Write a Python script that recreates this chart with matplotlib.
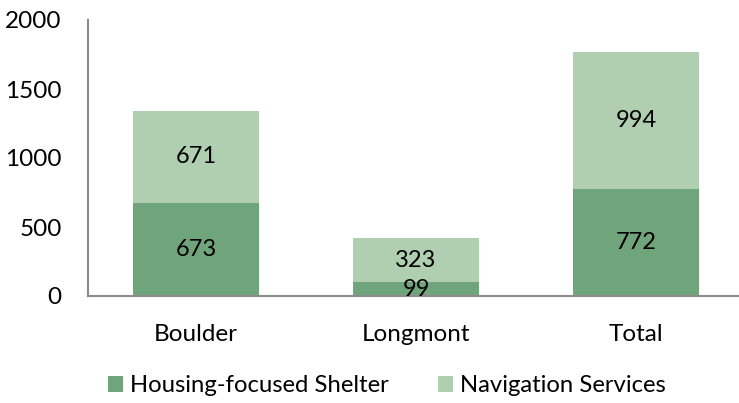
import matplotlib
matplotlib.use("Agg")
import matplotlib.pyplot as plt
from matplotlib.patches import Patch

categories = ["Boulder", "Longmont", "Total"]
shelter = [673, 99, 772]
navigation = [671, 323, 994]
series_names = ["Housing-focused Shelter", "Navigation Services"]
yticks = [0, 500, 1000, 1500, 2000]

dark = "#70A47A"
light = "#B0CEB0"
plt.rcParams['font.family'] = ['Lato', 'DejaVu Sans']

fig = plt.figure(figsize=(7.39, 4.03), dpi=100)
ax = fig.add_axes([88/739, (403-296)/403, 1 - 88/739, (296-20)/403])

x = list(range(len(categories)))
w = 0.57
ax.bar(x, shelter, width=w, color=dark)
ax.bar(x, navigation, width=w, bottom=shelter, color=light)

fs = 17
for i in x:
    ax.text(i, shelter[i] / 2, str(shelter[i]), ha='center', va='center', fontsize=fs, color='black')
    ax.text(i, shelter[i] + navigation[i] / 2, str(navigation[i]), ha='center', va='center', fontsize=fs, color='black')

ax.set_xlim(-0.491, 2.468)
ax.set_ylim(0, 2000)
ax.set_yticks(yticks)
ax.set_yticklabels([str(t) for t in yticks], fontsize=17.5)
ax.set_xticks(x)
ax.set_xticklabels(categories, fontsize=17.5)
ax.tick_params(axis='both', length=0)
ax.tick_params(axis='y', pad=19)
ax.tick_params(axis='x', pad=20)
for s in ['top', 'right']:
    ax.spines[s].set_visible(False)
for s in ['left', 'bottom']:
    ax.spines[s].set_color('#8C8C8C')
    ax.spines[s].set_linewidth(1.5)

handles = [Patch(facecolor=dark), Patch(facecolor=light)]
fig.legend(handles, series_names, loc='center', bbox_to_anchor=(387/739, 1 - 386/403),
           ncol=2, frameon=False, fontsize=17.2, handlelength=0.63, handleheight=0.63,
           handletextpad=0.29, columnspacing=2.05)

fig.savefig("out.png", dpi=100)
